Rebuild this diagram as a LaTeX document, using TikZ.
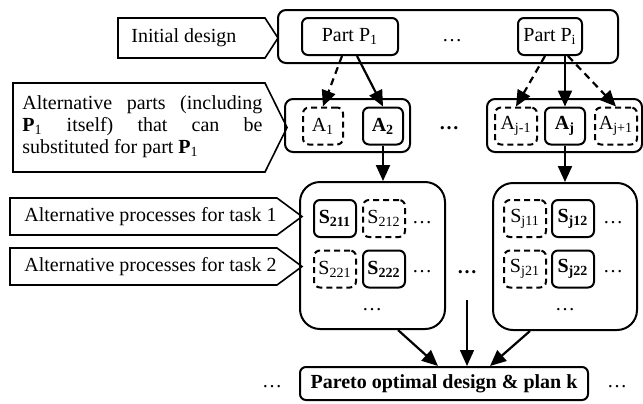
\documentclass[tikz,border=0pt]{standalone}
\usepackage{fontspec}
\setmainfont{Liberation Serif}
\usetikzlibrary{arrows.meta,positioning,calc}

\tikzset{
  solidbox/.style={draw, line width=1pt, rounded corners=3pt, inner sep=1pt,
    minimum width=21pt, minimum height=18.5pt},
  dashbox/.style={solidbox, dash pattern=on 3pt off 2pt},
  groupbox/.style={draw, line width=1pt, rounded corners=4pt},
  callout/.style={line width=0.8pt, line join=miter},
  flow/.style={line width=1.1pt, -{Triangle[length=8pt,width=7pt]}},
  dashflow/.style={flow, dash pattern=on 3.5pt off 2.5pt},
}

\begin{document}
\begin{tikzpicture}[x=0.5pt, y=-0.5pt, font=\fontsize{10}{11}\selectfont]
\useasboundingbox (0,0) rectangle (643,403);

% Initial design level
\node[groupbox, minimum width=170pt, minimum height=26.5pt] (design) at (448,36.5) {};
\node[solidbox, minimum width=48pt] (partA) at (350,36.5) {Part P\textsubscript{1}};
\node[solidbox, minimum width=32pt] (partB) at (550,36.5) {Part P\textsubscript{i}};
\node (topdots) at (452,41) {\ldots};

% Alternative parts level
\node[groupbox, minimum width=62.5pt, minimum height=26.5pt] (altL) at (347.5,125.5) {};
\node[groupbox, minimum width=77.5pt, minimum height=26.5pt] (altR) at (564.5,125.5) {};
\node[dashbox, minimum width=20pt] (A1) at (323,126) {A\textsubscript{1}};
\node[solidbox, minimum width=20pt] (A2) at (383,126) {\textbf{A\textsubscript{2}}};
\node (altdots) at (449,128) {\textbf{\ldots}};
\node[dashbox] (Ajm) at (516,126) {A\textsubscript{j-1}};
\node[solidbox, minimum width=20pt] (Aj) at (565,126) {\textbf{A\textsubscript{j}}};
\node[dashbox] (Ajp) at (616,126) {A\textsubscript{j+1}};

% Alternative processes level
\node[groupbox, rounded corners=10pt, minimum width=72.5pt, minimum height=73.5pt] (procL) at (372.5,255.5) {};
\node[groupbox, rounded corners=10pt, minimum width=72pt, minimum height=73.5pt] (procR) at (565,256.5) {};
\node[solidbox] (S211) at (335,218.5) {\textbf{S\textsubscript{211}}};
\node[dashbox] (S212) at (384,218.5) {S\textsubscript{212}};
\node[dashbox] (S221) at (335,269) {S\textsubscript{221}};
\node[solidbox] (S222) at (384,269) {\textbf{S\textsubscript{222}}};
\node[dashbox] (Sj11) at (525,218.5) {S\textsubscript{j11}};
\node[solidbox] (Sj12) at (573,218.5) {\textbf{S\textsubscript{j12}}};
\node[dashbox] (Sj21) at (525,269) {S\textsubscript{j21}};
\node[solidbox] (Sj22) at (573,269) {\textbf{S\textsubscript{j22}}};
\node (dotsL1) at (422,223) {\ldots};
\node (dotsL2) at (422,272) {\ldots};
\node (dotsR1) at (613,223) {\ldots};
\node (dotsR2) at (613,272) {\ldots};
\node (dotsLb) at (372,310) {\ldots};
\node (dotsRb) at (565,310) {\ldots};
\node (middots) at (467,272) {\textbf{\ldots}};

% Result
\node[solidbox, minimum width=144pt, minimum height=16.5pt, font=\bfseries] (pareto) at (444,383.5) {Pareto optimal design \& plan k};
\node (paretoL) at (272,387) {\ldots};
\node (paretoR) at (617,387) {\ldots};

% Callout labels
\node[anchor=west, inner sep=0pt] (initlbl) at (131,38) {Initial design};
\node[anchor=west, inner sep=0pt, text width=120pt, align=justify] (partslbl) at (22,127)
  {Alternative parts (including\linebreak \textbf{P}\textsubscript{1} itself) that can be\linebreak substituted for part \textbf{P}\textsubscript{1}};
\node[anchor=west, inner sep=0pt] (task1lbl) at (24,217) {Alternative processes for task 1};
\node[anchor=west, inner sep=0pt] (task2lbl) at (24,267) {Alternative processes for task 2};
\foreach \l/\t/\r/\b/\p in {118/18/265/58/278, 13/83/265/172/287, 10/198/277/235/302, 10/248/277/285/302}
  \draw[callout] (\l,\t) -- (\r,\t) -- (\p,{(\t+\b)/2}) -- (\r,\b) -- (\l,\b) -- cycle;

% Connectors
\draw[dashflow] ([xshift=-4pt]partA.south) -- (A1.north);
\draw[flow] ([xshift=3.5pt]partA.south) -- (A2.north);
\draw[dashflow] ([xshift=-2.5pt]partB.south) -- (Ajm.north);
\draw[flow] (partB.south -| Aj.north) -- (Aj.north);
\draw[dashflow] ([xshift=9pt]partB.south) -- (Ajp.north);
\draw[flow] (A2.south) -- (A2.south |- procL.north);
\draw[flow] (Aj.south) -- (Aj.south |- procR.north);
\coordinate (midtop) at (467,300);
\draw[flow] ([xshift=12.75pt]procL.south) -- ([xshift=-3pt]pareto.north);
\draw[flow, line width=0.8pt] (midtop) -- (midtop |- pareto.north);
\draw[flow] ([xshift=-17.5pt]procR.south) -- ([xshift=23pt]pareto.north);
\end{tikzpicture}
\end{document}
